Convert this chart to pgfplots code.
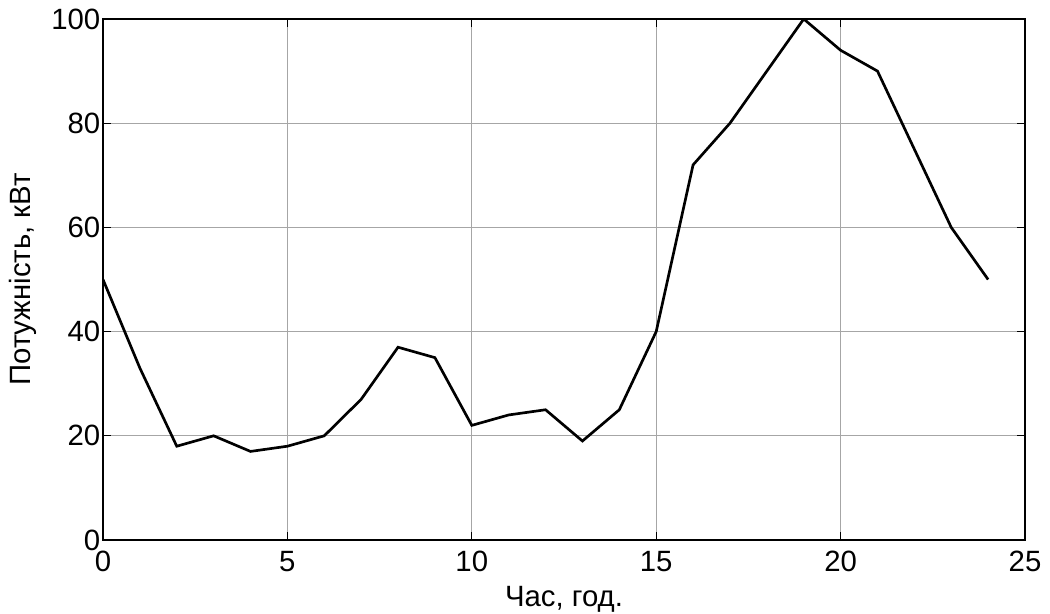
\documentclass[border=0pt]{standalone}
\usepackage{pgfplots}
\pgfplotsset{compat=1.18}
\usepackage{fontspec}
\setmainfont{Liberation Sans}
\begin{document}
\begin{tikzpicture}
\begin{axis}[
  name=ax,
  scale only axis,
  width=691.5pt, height=390.75pt,
  xmin=0, xmax=25, ymin=0, ymax=100,
  xtick={0,5,...,25}, ytick={0,20,...,100},
  tick align=inside,
  major tick length=6pt,
  xtick pos=both, ytick pos=both,
  axis line style={black, line width=0.8pt},
  grid=major,
  major grid style={gray!70, line width=0.7pt},
  tick style={black, line width=0.8pt},
  /pgf/number format/assume math mode=true,
  tick label style={font=\fontsize{22}{26}\selectfont},
  xticklabel style={yshift=-5pt},
  yticklabel style={xshift=1.5pt},
  xlabel={Час, год.},
  ylabel={Потужність, кВт},
  xlabel style={font=\fontsize{22}{26}\selectfont, at={(axis description cs:0.5,0)}, anchor=center, yshift=-44.5pt},
  ylabel style={font=\fontsize{22}{26}\selectfont, at={(axis description cs:0,0.5)}, anchor=center, rotate=0, yshift=60pt},
]
\addplot[black, line width=2pt, line join=miter] coordinates {
(0,50) (1,33) (2,18) (3,20) (4,17) (5,18) (6,20) (7,27) (8,37) (9,35)
(10,22) (11,24) (12,25) (13,19) (14,25) (15,40) (16,72) (17,80) (18,90)
(19,100) (20,94) (21,90) (22,75) (23,60) (24,50)
};
\end{axis}
\pgfresetboundingbox
\path[use as bounding box] ([xshift=-77.25pt,yshift=-55.5pt]ax.south west) rectangle ([xshift=18.75pt,yshift=14.25pt]ax.north east);
\end{tikzpicture}
\end{document}
